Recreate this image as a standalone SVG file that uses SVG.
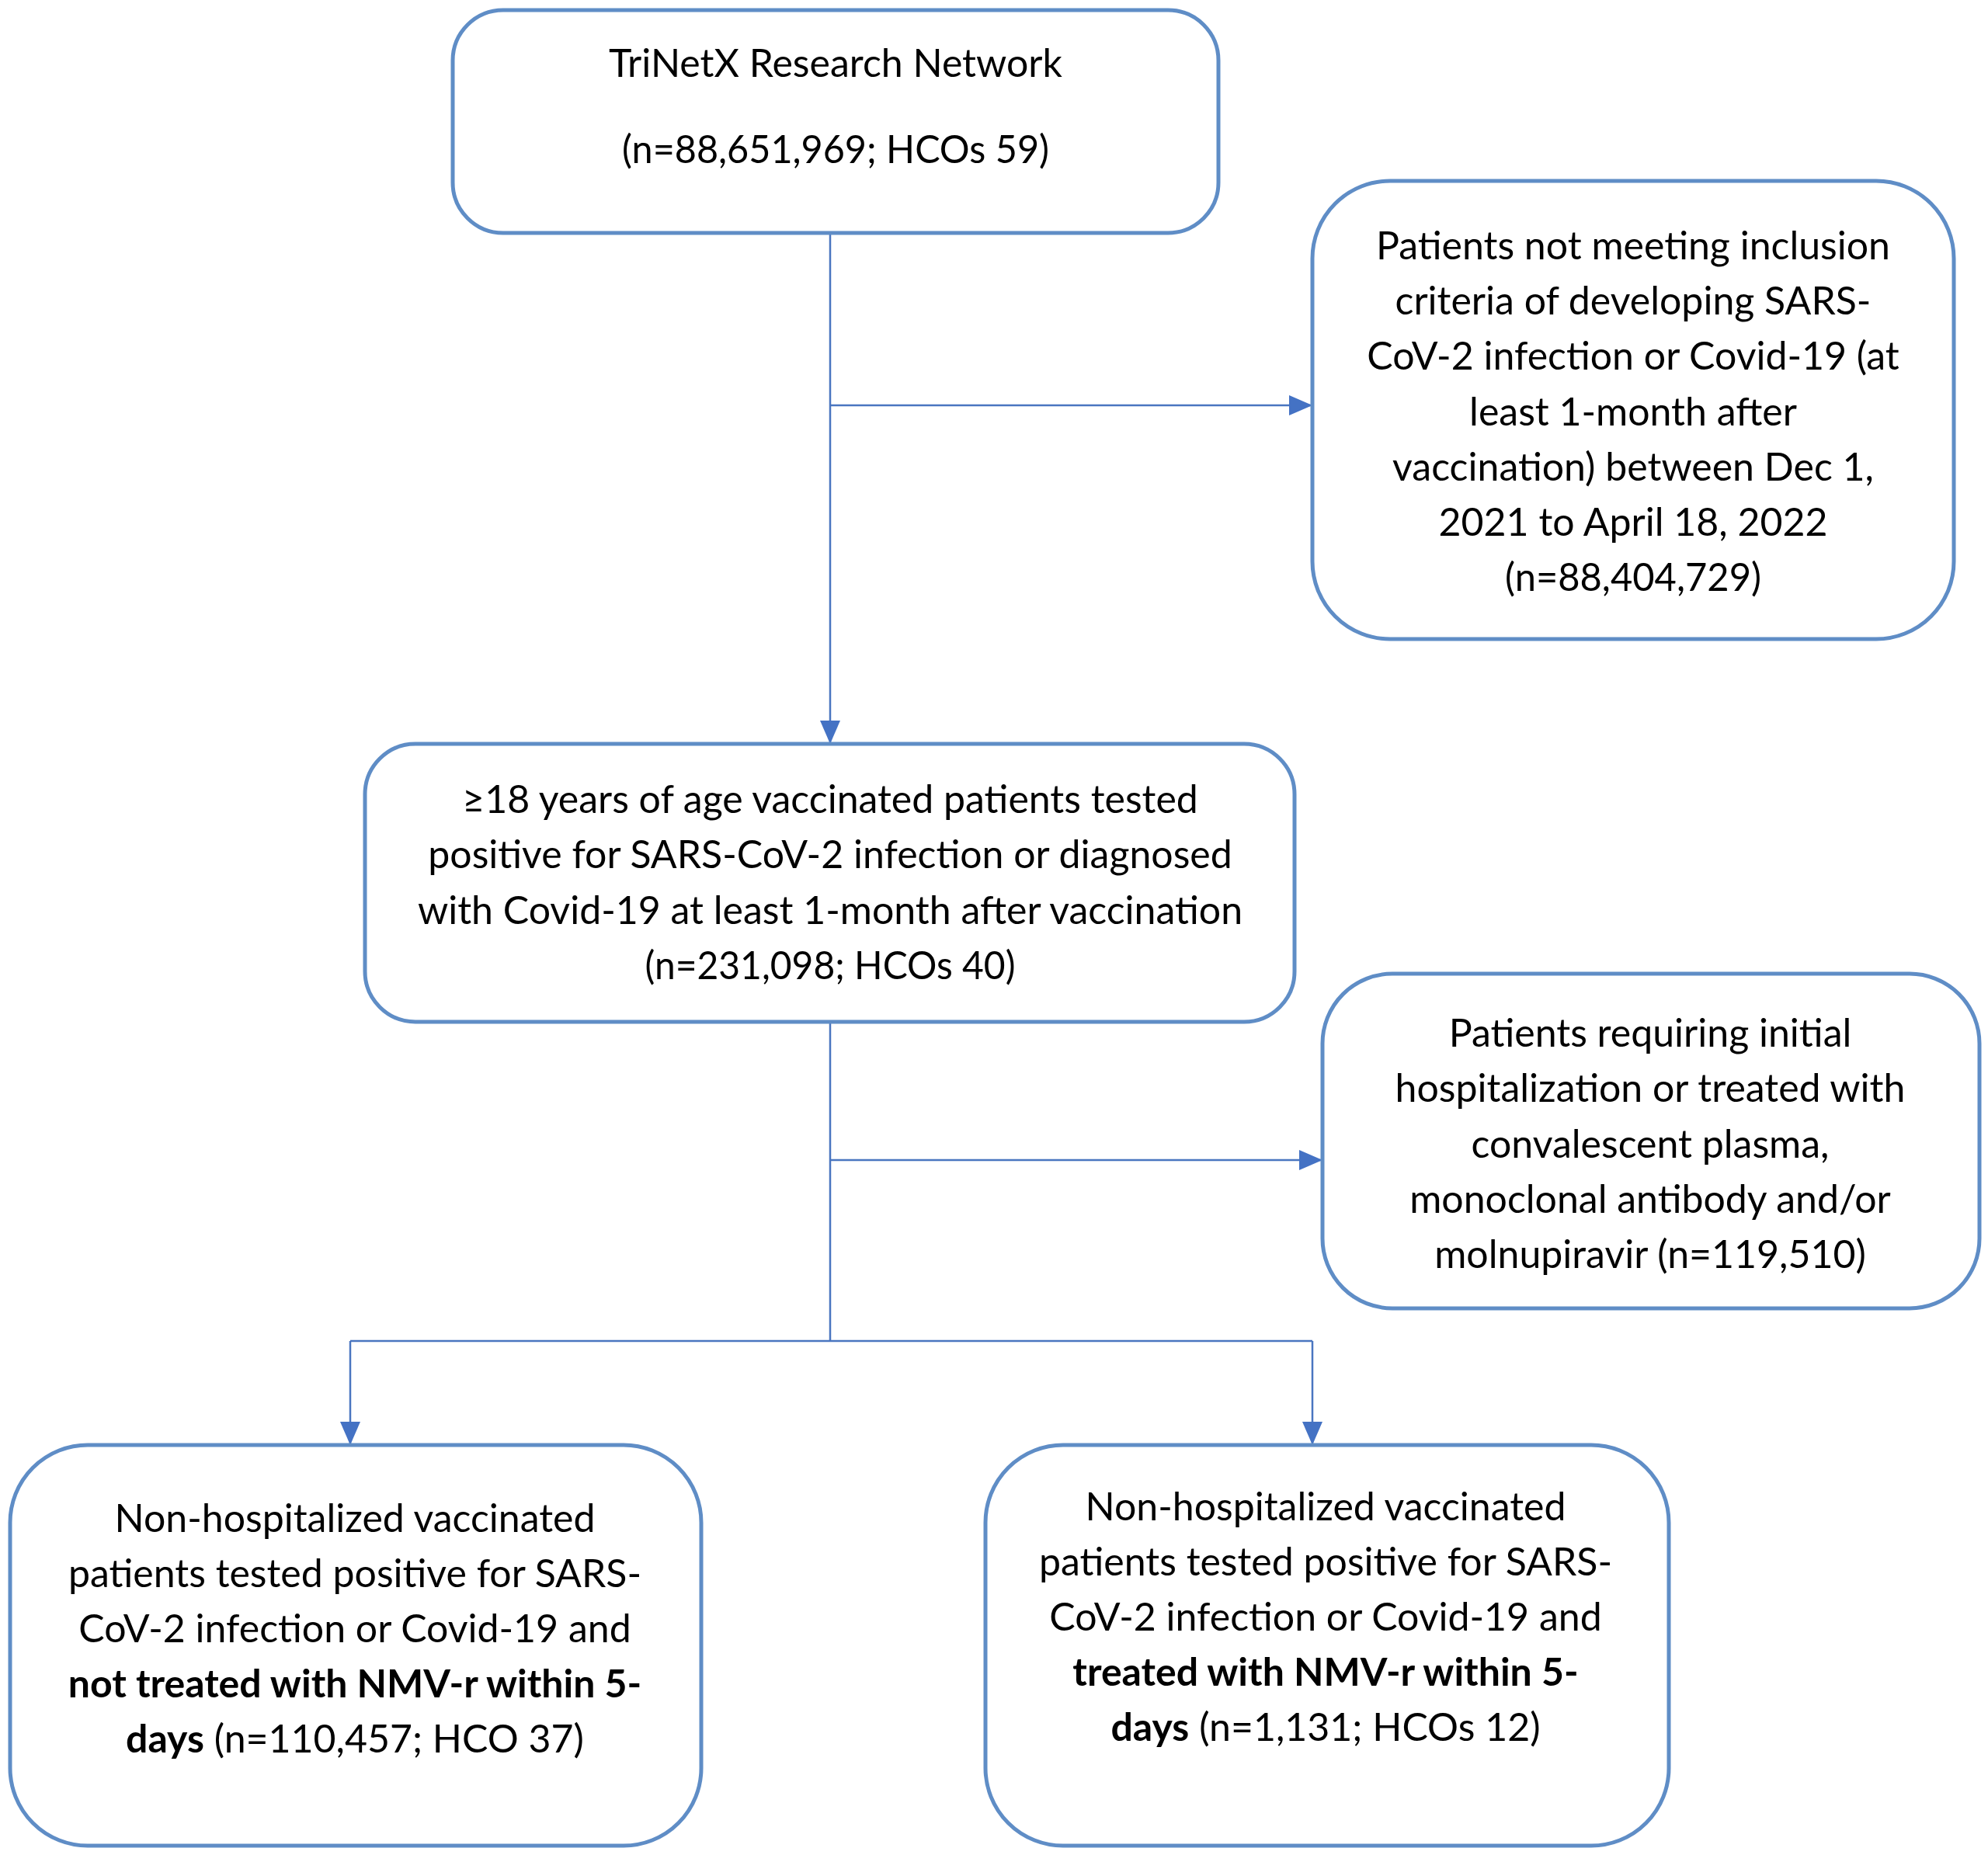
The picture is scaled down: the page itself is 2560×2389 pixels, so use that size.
<svg xmlns="http://www.w3.org/2000/svg" width="2560" height="2389" viewBox="0 0 2560 2389">
<style>
.box{fill:#ffffff;stroke:#5F8DC6;stroke-width:5}
.t{font-family:Lato,"Liberation Sans",sans-serif;font-size:50px;fill:#000000;text-anchor:middle}
.b{font-weight:bold}
.c{fill:none;stroke:#4A76C0;stroke-width:2.5}
</style>
<defs>
<marker id="ah" viewBox="0 0 30 26" refX="30" refY="13" markerWidth="30" markerHeight="26" markerUnits="userSpaceOnUse" orient="auto">
<path d="M0,0 L30,13 L0,26 z" fill="#4472C4"/>
</marker>
</defs>
<rect width="2560" height="2389" fill="#ffffff"/>
<g id="connectors">
<path class="c" d="M1069,300 V958" marker-end="url(#ah)"/>
<path class="c" d="M1069,522 H1690" marker-end="url(#ah)"/>
<path class="c" d="M1069,1316 V1727"/>
<path class="c" d="M1069,1494 H1703" marker-end="url(#ah)"/>
<path class="c" d="M451,1727 H1690"/>
<path class="c" d="M451,1727 V1861" marker-end="url(#ah)"/>
<path class="c" d="M1690,1727 V1861" marker-end="url(#ah)"/>
</g>
<g id="node-trinetx">
<rect class="box" x="583" y="13" width="986" height="287" rx="65" ry="65"/>
<text class="t" x="1076" y="99">TriNetX Research Network</text>
<text class="t" x="1076" y="210" textLength="550" lengthAdjust="spacingAndGlyphs">(n=88,651,969; HCOs 59)</text>
</g>
<g id="node-excluded1">
<rect class="box" x="1690" y="233" width="826" height="590" rx="100" ry="100"/>
<text class="t" x="2103" y="334">Patients not meeting inclusion</text>
<text class="t" x="2103" y="405">criteria of developing SARS-</text>
<text class="t" x="2103" y="476">CoV-2 infection or Covid-19 (at</text>
<text class="t" x="2103" y="548">least 1-month after</text>
<text class="t" x="2103" y="619">vaccination) between Dec 1,</text>
<text class="t" x="2103" y="690">2021 to April 18, 2022</text>
<text class="t" x="2103" y="761" textLength="330" lengthAdjust="spacingAndGlyphs">(n=88,404,729)</text>
</g>
<g id="node-vaccinated">
<rect class="box" x="470" y="958" width="1197" height="358" rx="65" ry="65"/>
<text class="t" x="1069" y="1047">≥18 years of age vaccinated patients tested</text>
<text class="t" x="1069" y="1118">positive for SARS-CoV-2 infection or diagnosed</text>
<text class="t" x="1069" y="1190">with Covid-19 at least 1-month after vaccination</text>
<text class="t" x="1069" y="1261" textLength="477" lengthAdjust="spacingAndGlyphs">(n=231,098; HCOs 40)</text>
</g>
<g id="node-excluded2">
<rect class="box" x="1703" y="1254" width="846" height="431" rx="90" ry="90"/>
<text class="t" x="2125" y="1348">Patients requiring initial</text>
<text class="t" x="2125" y="1419">hospitalization or treated with</text>
<text class="t" x="2125" y="1491">convalescent plasma,</text>
<text class="t" x="2125" y="1562">monoclonal antibody and/or</text>
<text class="t" x="2125" y="1633">molnupiravir (n=119,510)</text>
</g>
<g id="node-untreated">
<rect class="box" x="13" y="1861" width="890" height="516" rx="100" ry="100"/>
<text class="t" x="457" y="1973">Non-hospitalized vaccinated</text>
<text class="t" x="457" y="2044">patients tested positive for SARS-</text>
<text class="t" x="457" y="2115">CoV-2 infection or Covid-19 and</text>
<text class="t b" x="457" y="2186">not treated with NMV-r within 5-</text>
<text class="t" x="457" y="2257"><tspan class="b">days</tspan> (n=110,457; HCO 37)</text>
</g>
<g id="node-treated">
<rect class="box" x="1269" y="1861" width="880" height="516" rx="100" ry="100"/>
<text class="t" x="1707" y="1958">Non-hospitalized vaccinated</text>
<text class="t" x="1707" y="2029">patients tested positive for SARS-</text>
<text class="t" x="1707" y="2100">CoV-2 infection or Covid-19 and</text>
<text class="t b" x="1707" y="2171">treated with NMV-r within 5-</text>
<text class="t" x="1707" y="2242"><tspan class="b">days</tspan> (n=1,131; HCOs 12)</text>
</g>
</svg>
